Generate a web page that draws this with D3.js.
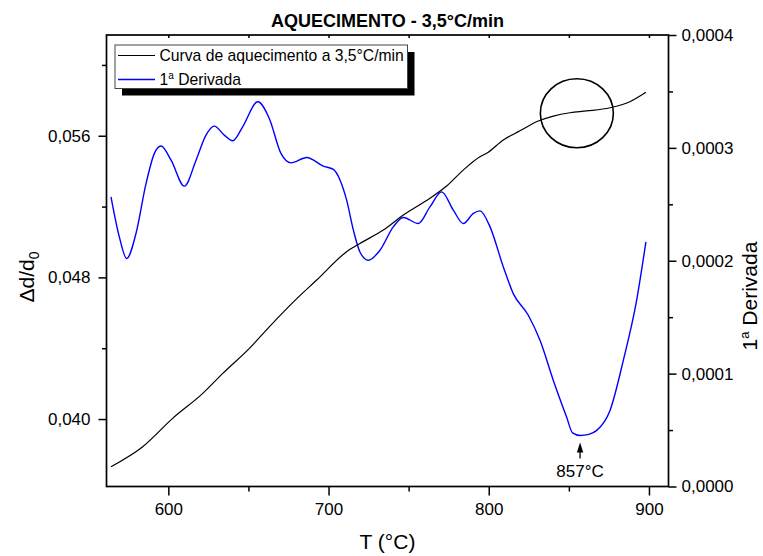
<!DOCTYPE html>
<html>
<head>
<meta charset="utf-8">
<script src="https://cdn.jsdelivr.net/npm/d3@7"></script>
<style>
  body { margin: 0; background: #fff; }
  svg { display: block; }
  text { font-family: Arial, "Liberation Sans", sans-serif; fill: #000; }
</style>
</head>
<body>
<svg id="chart" width="763" height="556"></svg>
<script>
// Heating curve (dilatation vs temperature), left axis
const heatTemp = [564.2, 584.0, 602.7, 621.5, 634.0, 650.6, 663.0, 679.7, 692.6, 711.3, 719.6, 734.2,
  746.7, 763.3, 773.7, 784.1, 794.5, 798.7, 809.1, 819.5, 830.9, 840.3, 850.7, 861.1, 875.7, 888.1, 898.1];
const heatDilation = [0.03731, 0.03844, 0.04004, 0.04145, 0.04258, 0.04399, 0.04521, 0.04676, 0.04785,
  0.04945, 0.04992, 0.05067, 0.05152, 0.05247, 0.05316, 0.05406, 0.05481, 0.05501, 0.05576, 0.05628,
  0.05683, 0.05711, 0.05730, 0.05740, 0.05758, 0.05792, 0.05845];

// First derivative, right axis
const derivTemp = [564.2, 569.4, 574.0, 579.8, 586.1, 591.3, 595.4, 601.7, 610.0, 617.3, 623.5, 628.7,
  634.9, 640.2, 646.4, 655.8, 663.0, 670.3, 676.6, 686.4, 696.7, 703.0, 707.2, 711.3, 715.5, 719.6,
  724.8, 732.1, 740.4, 746.7, 756.0, 763.3, 770.6, 777.9, 784.1, 790.4, 794.5, 800.8, 809.1, 815.3,
  824.7, 832.0, 840.3, 848.6, 852.3, 857.0, 862.5, 867.4, 875.7, 884.0, 892.3, 898.1];
const derivValue = [0.0002566, 0.0002211, 0.0002020, 0.0002241, 0.0002685, 0.0002951, 0.0003016,
  0.0002891, 0.0002661, 0.0002891, 0.0003113, 0.0003193, 0.0003113, 0.0003063, 0.0003187, 0.0003408,
  0.0003261, 0.0002951, 0.0002867, 0.0002915, 0.0002838, 0.0002809, 0.0002714, 0.0002537, 0.0002271,
  0.0002078, 0.0002004, 0.0002093, 0.0002300, 0.0002383, 0.0002330, 0.0002477, 0.0002610, 0.0002448,
  0.0002330, 0.0002419, 0.0002442, 0.0002300, 0.0001945, 0.0001709, 0.0001517, 0.0001295, 0.0000940,
  0.0000615, 0.0000475, 0.0000452, 0.0000462, 0.0000497, 0.0000674, 0.0001118, 0.0001650, 0.0002167];

// Tick values
const xTicks = [600, 700, 800, 900];
const xMinorTicks = [650, 750, 850];
const leftTicks = [0.040, 0.048, 0.056];
const leftMinorTicks = [0.044, 0.052, 0.060];
const rightTicks = [0, 0.0001, 0.0002, 0.0003, 0.0004];
const rightMinorTicks = [0.00005, 0.00015, 0.00025, 0.00035];

// Texts
const chartTitle = "AQUECIMENTO - 3,5°C/min";
const legendHeat = "Curva de aquecimento a 3,5°C/min";
const peakTemp = 857;

const svg = d3.select("#chart");
const L = 106.5, R = 668.5, T = 35, B = 486.5;

const x = d3.scaleLinear().domain([561.4, 912.2]).range([L, R]);
const yL = d3.scaleLinear().domain([0.03619, 0.06169]).range([B, T]);
const yR = d3.scaleLinear().domain([0, 0.0004]).range([B, T]);

const comma = f => v => d3.format(f)(v).replace(".", ",");

function styleAxis(g) {
  g.select(".domain").remove();
  g.selectAll(".tick line").attr("stroke", "#000").attr("stroke-width", 1.5);
  g.selectAll(".tick text").style("font-size", "17px").style("font-family", "Arial, 'Liberation Sans', sans-serif").attr("fill", "#000");
}

// Bottom axis
svg.append("g").attr("transform", `translate(0,${B})`)
  .call(d3.axisBottom(x).tickValues(xTicks).tickSize(9).tickSizeOuter(0).tickPadding(7).tickFormat(d3.format("d")))
  .call(styleAxis);
svg.append("g").attr("transform", `translate(0,${B})`)
  .call(d3.axisBottom(x).tickValues(xMinorTicks).tickSize(5).tickSizeOuter(0).tickFormat(""))
  .call(styleAxis);
// Top edge inner ticks
svg.append("g").attr("transform", `translate(0,${T})`)
  .call(d3.axisTop(x).tickValues(xTicks.concat(xMinorTicks)).tickSize(-3).tickSizeOuter(0).tickFormat(""))
  .call(styleAxis);

// Left axis
svg.append("g").attr("transform", `translate(${L},0)`)
  .call(d3.axisLeft(yL).tickValues(leftTicks).tickSize(8).tickSizeOuter(0).tickPadding(8).tickFormat(comma(".3f")))
  .call(styleAxis);
svg.append("g").attr("transform", `translate(${L},0)`)
  .call(d3.axisLeft(yL).tickValues(leftMinorTicks).tickSize(4.5).tickSizeOuter(0).tickFormat(""))
  .call(styleAxis);

// Right axis
svg.append("g").attr("transform", `translate(${R},0)`)
  .call(d3.axisRight(yR).tickValues(rightTicks).tickSize(8).tickSizeOuter(0).tickPadding(5).tickFormat(comma(".4f")))
  .call(styleAxis);
svg.append("g").attr("transform", `translate(${R},0)`)
  .call(d3.axisRight(yR).tickValues(rightMinorTicks).tickSize(4.5).tickSizeOuter(0).tickFormat(""))
  .call(styleAxis);

// Frame
svg.append("rect").attr("x", L).attr("y", T).attr("width", R - L).attr("height", B - T)
  .attr("fill", "none").attr("stroke", "#000").attr("stroke-width", 1.7);

// Curves
const heatLine = d3.line().x(i => x(heatTemp[i])).y(i => yL(heatDilation[i])).curve(d3.curveMonotoneX);
const derivLine = d3.line().x(i => x(derivTemp[i])).y(i => yR(derivValue[i])).curve(d3.curveMonotoneX);

svg.append("path").attr("d", derivLine(d3.range(derivTemp.length)))
  .attr("fill", "none").attr("stroke", "#0000ff").attr("stroke-width", 1.4);
svg.append("path").attr("d", heatLine(d3.range(heatTemp.length)))
  .attr("fill", "none").attr("stroke", "#000").attr("stroke-width", 1.2);

// Highlight ellipse on the heating curve plateau
svg.append("ellipse").attr("cx", x(855)).attr("cy", yL(0.05727)).attr("rx", 36.5).attr("ry", 34.5)
  .attr("fill", "none").attr("stroke", "#000").attr("stroke-width", 1.6);

// Minimum marker
const minIdx = derivTemp.indexOf(peakTemp);
const ax = x(peakTemp), ayTip = yR(derivValue[minIdx]) + 7;
svg.append("line").attr("x1", ax).attr("x2", ax).attr("y1", ayTip + 6).attr("y2", ayTip + 16)
  .attr("stroke", "#000").attr("stroke-width", 1.3);
svg.append("path").attr("d", `M${ax},${ayTip} L${ax - 3.2},${ayTip + 10} L${ax + 3.2},${ayTip + 10} Z`).attr("fill", "#000");
svg.append("text").attr("x", ax).attr("y", ayTip + 35).attr("text-anchor", "middle")
  .style("font-size", "17px").text(`${peakTemp}°C`);

// Title
svg.append("text").attr("x", (L + R) / 2).attr("y", 27).attr("text-anchor", "middle")
  .style("font-size", "18px").style("font-weight", "bold").text(chartTitle);

// Axis titles
svg.append("text").attr("x", (L + R) / 2).attr("y", 549).attr("text-anchor", "middle")
  .style("font-size", "21px").text("T (°C)");

const yLab = svg.append("text").attr("transform", "translate(34,277) rotate(-90)").attr("text-anchor", "middle")
  .style("font-size", "21px");
yLab.append("tspan").text("Δd/d");
yLab.append("tspan").attr("dy", 5).style("font-size", "14px").text("0");

const yRLab = svg.append("text").attr("transform", "translate(757,296) rotate(-90)").attr("text-anchor", "middle")
  .style("font-size", "21px");
yRLab.append("tspan").text("1");
yRLab.append("tspan").attr("dy", -8).style("font-size", "13px").text("a");
yRLab.append("tspan").attr("dy", 8).text(" Derivada");

// Legend
const lg = svg.append("g");
lg.append("rect").attr("x", 122).attr("y", 52).attr("width", 292.5).attr("height", 43.5).attr("fill", "#000");
lg.append("rect").attr("x", 115).attr("y", 45).attr("width", 292.5).attr("height", 43.5)
  .attr("fill", "#fff").attr("stroke", "#444").attr("stroke-width", 1);
lg.append("line").attr("x1", 118).attr("x2", 155).attr("y1", 55.5).attr("y2", 55.5).attr("stroke", "#000").attr("stroke-width", 1.2);
lg.append("line").attr("x1", 118).attr("x2", 155).attr("y1", 79.5).attr("y2", 79.5).attr("stroke", "#0000ff").attr("stroke-width", 1.4);
lg.append("text").attr("x", 159.5).attr("y", 61).style("font-size", "15.7px").text(legendHeat);
const lg2 = lg.append("text").attr("x", 159.5).attr("y", 85).style("font-size", "15.7px");
lg2.append("tspan").text("1");
lg2.append("tspan").attr("dy", -6).style("font-size", "10px").text("a");
lg2.append("tspan").attr("dy", 6).text(" Derivada");
</script>
</body>
</html>
